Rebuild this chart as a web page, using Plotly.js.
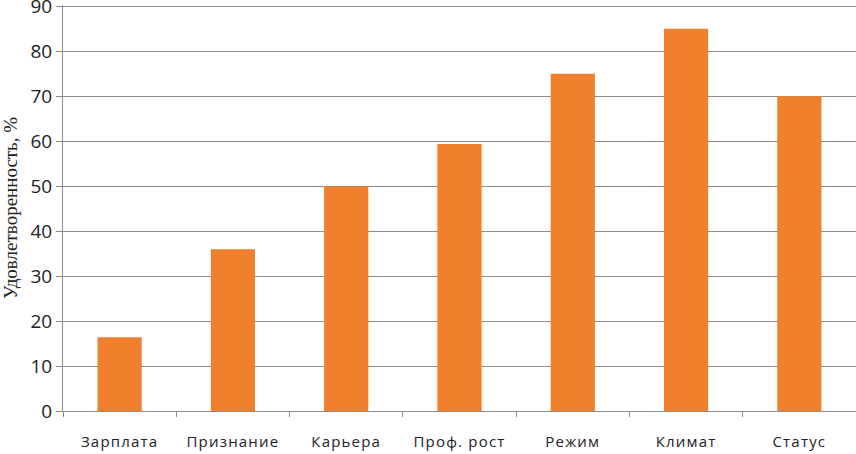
<!DOCTYPE html>
<html>
<head>
<meta charset="utf-8">
<script src="https://cdn.plot.ly/plotly-3.0.1.min.js"></script>
<style>
  html, body { margin: 0; padding: 0; background: #fff; }
  #chart { width: 856px; height: 454px; }
  .xtick text { letter-spacing: 1.2px; }
</style>
</head>
<body>
<div id="chart"></div>
<script>
// categories and satisfaction values (%)
const categories = ["Зарплата", "Признание", "Карьера", "Проф. рост", "Режим", "Климат", "Статус"];
const satisfaction = [16.4, 36, 50, 59.4, 75, 85, 70];
const yTicks = [0, 10, 20, 30, 40, 50, 60, 70, 80, 90];

const bars = {
  type: "bar",
  x: categories,
  y: satisfaction,
  marker: { color: "#f07f2e", line: { width: 0 } },
  hoverinfo: "x+y",
};

const layout = {
  width: 856,
  height: 454,
  margin: { l: 63, r: 0, t: 5, b: 43 },
  paper_bgcolor: "#fff",
  plot_bgcolor: "#fff",
  showlegend: false,
  bargap: 0.61,
  xaxis: {
    type: "category",
    showgrid: false,
    showline: true,
    linecolor: "#8c8c8c",
    linewidth: 1,
    ticks: "outside",
    tickson: "boundaries",
    ticklen: 5,
    tickcolor: "#8c8c8c",
    tickfont: { family: "Open Sans, DejaVu Sans, sans-serif", size: 15, color: "#222" },
    ticklabelstandoff: 17,
  },
  yaxis: {
    range: [0, 90.3],
    tickvals: yTicks,
    ticklabeloverflow: "allow",
    showgrid: true,
    gridcolor: "#8c8c8c",
    gridwidth: 1,
    zeroline: false,
    showline: true,
    linecolor: "#8c8c8c",
    ticks: "outside",
    ticklen: 6,
    tickcolor: "#8c8c8c",
    tickfont: { family: "Open Sans, Liberation Sans, sans-serif", size: 19, color: "#222" },
    title: {
      text: "Удовлетворенность, %",
      font: { family: "Liberation Serif, DejaVu Serif, serif", size: 19, color: "#222" },
      standoff: 8,
    },
  },
};

Plotly.newPlot("chart", [bars], layout, { displayModeBar: false, staticPlot: true });
</script>
</body>
</html>
